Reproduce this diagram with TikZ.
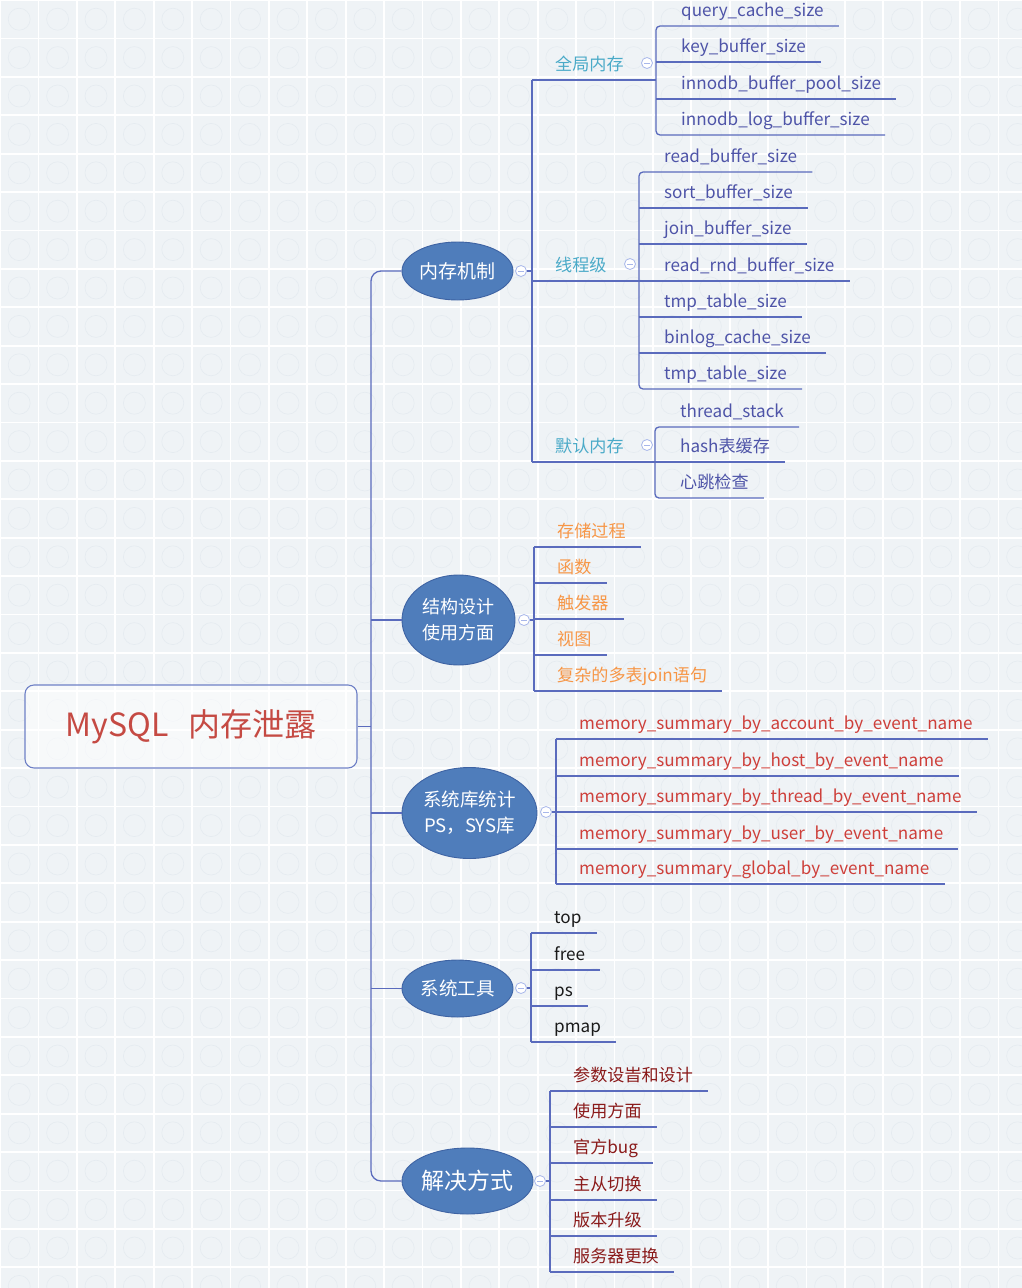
\documentclass[tikz,border=0pt]{standalone}
\usepackage{fontspec}
\setmainfont{Noto Sans CJK SC}
\usetikzlibrary{shapes.geometric,calc}
\definecolor{bgc}{HTML}{EFF3F6}
\definecolor{tilec}{HTML}{E5EBF0}
\definecolor{linec}{HTML}{5A6BBD}
\definecolor{ellfill}{HTML}{4F7DBB}
\definecolor{elldraw}{HTML}{3E63A3}
\definecolor{mkc}{HTML}{A8B7EA}
\definecolor{rootc}{HTML}{6E80C6}
\definecolor{rootred}{HTML}{C54A43}
\definecolor{teal}{HTML}{4AAAC8}
\definecolor{leafblue}{HTML}{4E54A8}
\definecolor{orng}{HTML}{F79646}
\definecolor{redt}{HTML}{CE3F3A}
\definecolor{darkred}{HTML}{8A1A1A}
\definecolor{blk}{HTML}{1A1A1A}
\tikzset{
  ln/.style={draw=linec, line width=1.3pt},
  ell/.style={ellipse, fill=ellfill, draw=elldraw, line width=0.9pt, text=white, inner sep=0pt, align=center},
  mk/.style={circle, draw=mkc, fill=white, minimum size=11pt, inner sep=0pt, line width=0.8pt,
    path picture={\draw[mkc, line width=0.8pt] ([xshift=-2.8pt]path picture bounding box.center) -- ([xshift=2.8pt]path picture bounding box.center);}},
  leaf/.style={anchor=south west, inner sep=0pt, text depth=9.5pt, text height=14pt,
    font=\fontsize{17.1}{20}\selectfont,
    execute at begin node={\hspace*{#1}}, execute at end node={\hspace*{15pt}}},
  leaf/.default=23pt,
  rootbox/.style={draw=rootc, line width=1.1pt, rounded corners=9pt, fill=white, fill opacity=0.55, text opacity=1,
    text=rootred, minimum width=332pt, minimum height=83pt, inner sep=0pt, font=\fontsize{32}{36}\selectfont}
}
\begin{document}
\begin{tikzpicture}[x=1pt,y=-1pt]
\useasboundingbox (0,0) rectangle (1022,1288);
% background tiles
\fill[bgc] (0,0) rectangle (1022,1288);
\foreach \i in {0,...,26} \foreach \j in {0,...,33} {
  \draw[tilec, line width=0.6pt] ({\i*38.4+19.2},{\j*38.4+19.2}) circle (11);
}
\foreach \i in {0,...,27} \draw[white, line width=1.8pt] ({\i*38.4},0) -- ({\i*38.4},1288);
\foreach \j in {0,...,34} \draw[white, line width=1.8pt] (0,{\j*38.4}) -- (1022,{\j*38.4});

\coordinate (trunk) at (371,0);

% root and main branches
\node[rootbox] (root) at (191,726.5) {MySQL\hspace{0.6em}内存泄露};
\node[ell, minimum width=111pt, minimum height=58pt, font=\fontsize{19}{22}\selectfont] (A) at (457.5,271) {内存机制};
\node[ell, minimum width=113pt, minimum height=90pt, font=\fontsize{18}{26}\selectfont] (B) at (458.5,620) {结构设计\\使用方面};
\node[ell, minimum width=135pt, minimum height=91pt, font=\fontsize{18.5}{26}\selectfont] (C) at (469.5,813) {系统库统计\\PS，SYS库};
\node[ell, minimum width=111pt, minimum height=57pt, font=\fontsize{18.5}{22}\selectfont] (D) at (457.5,988.5) {系统工具};
\node[ell, minimum width=131pt, minimum height=66pt, font=\fontsize{23}{26}\selectfont] (E) at (467.5,1181) {解决方式};

\draw[ln, rounded corners=10pt] (A.west) -- (A.west -| trunk) -- (E.west -| trunk) -- (E.west);
\draw[ln] (root.east) -- (root.east -| trunk);
\draw[ln] (B.west -| trunk) -- (B.west);
\draw[ln] (C.west -| trunk) -- (C.west);
\draw[ln] (D.west -| trunk) -- (D.west);

% ---------- 内存机制 ----------
\node[leaf, text=teal] (g1) at (532,80) {全局内存};
\node[leaf, text=teal] (g2) at (532,281) {线程级};
\node[leaf, text=teal] (g3) at (532,462) {默认内存};

\node[leaf=25pt, text=leafblue] (q1) at (656,26) {query\_cache\_size};
\node[leaf=25pt, text=leafblue] (q2) at (656,62) {key\_buffer\_size};
\node[leaf=25pt, text=leafblue] (q3) at (656,99) {innodb\_buffer\_pool\_size};
\node[leaf=25pt, text=leafblue] (q4) at (656,135) {innodb\_log\_buffer\_size};

\node[leaf=25pt, text=leafblue] (t1) at (639,172) {read\_buffer\_size};
\node[leaf=25pt, text=leafblue] (t2) at (639,208) {sort\_buffer\_size};
\node[leaf=25pt, text=leafblue] (t3) at (639,244) {join\_buffer\_size};
\node[leaf=25pt, text=leafblue] (t4) at (639,281) {read\_rnd\_buffer\_size};
\node[leaf=25pt, text=leafblue] (t5) at (639,317) {tmp\_table\_size};
\node[leaf=25pt, text=leafblue] (t6) at (639,353) {binlog\_cache\_size};
\node[leaf=25pt, text=leafblue] (t7) at (639,389) {tmp\_table\_size};

\node[leaf=25pt, text=leafblue] (d1) at (655,427) {thread\_stack};
\node[leaf=25pt, text=leafblue] (d2) at (655,462) {hash表缓存};
\node[leaf=25pt, text=leafblue] (d3) at (655,498) {心跳检查};

\draw[ln] (g1.south west) -- (g3.south west);
\draw[ln] (g1.south west) -- (g1.south west -| q1.south west);
\draw[ln] (g2.south west) -- (g2.south west -| t1.south west);
\draw[ln] (g3.south west) -- (g3.south west -| d1.south west);

\draw[ln, rounded corners=4pt] (q1.south east) -- (q1.south west) -- (q4.south west) -- (q4.south east);
\foreach \n in {q2,q3} \draw[ln] (\n.south west) -- (\n.south east);
\draw[ln, rounded corners=4pt] (t1.south east) -- (t1.south west) -- (t7.south west) -- (t7.south east);
\foreach \n in {t2,t3,t4,t5,t6} \draw[ln] (\n.south west) -- (\n.south east);
\draw[ln, rounded corners=4pt] (d1.south east) -- (d1.south west) -- (d3.south west) -- (d3.south east);
\draw[ln] (d2.south west) -- (d2.south east);

% ---------- 结构设计 ----------
\node[leaf, text=orng] (b1) at (534,547) {存储过程};
\node[leaf, text=orng] (b2) at (534,583) {函数};
\node[leaf, text=orng] (b3) at (534,619) {触发器};
\node[leaf, text=orng] (b4) at (534,655) {视图};
\node[leaf, text=orng] (b5) at (534,691) {复杂的多表join语句};
\draw[ln] (b1.south west) -- (b5.south west);
\foreach \n in {b1,b2,b3,b4,b5} \draw[ln] (\n.south west) -- (\n.south east);

% ---------- 系统库统计 ----------
\node[leaf, text=redt] (c1) at (556,739) {memory\_summary\_by\_account\_by\_event\_name};
\node[leaf, text=redt] (c2) at (556,776) {memory\_summary\_by\_host\_by\_event\_name};
\node[leaf, text=redt] (c3) at (556,812) {memory\_summary\_by\_thread\_by\_event\_name};
\node[leaf, text=redt] (c4) at (556,849) {memory\_summary\_by\_user\_by\_event\_name};
\node[leaf, text=redt] (c5) at (556,884) {memory\_summary\_global\_by\_event\_name};
\draw[ln] (c1.south west) -- (c5.south west);
\foreach \n in {c1,c2,c3,c4,c5} \draw[ln] (\n.south west) -- (\n.south east);

% ---------- 系统工具 ----------
\node[leaf, text=blk] (s1) at (531,933) {top};
\node[leaf, text=blk] (s2) at (531,970) {free};
\node[leaf, text=blk] (s3) at (531,1006) {ps};
\node[leaf, text=blk] (s4) at (531,1042) {pmap};
\draw[ln] (s1.south west) -- (s4.south west);
\foreach \n in {s1,s2,s3,s4} \draw[ln] (\n.south west) -- (\n.south east);

% ---------- 解决方式 ----------
\node[leaf, text=darkred] (e1) at (550,1091) {参数设旹和设计};
\node[leaf, text=darkred] (e2) at (550,1127) {使用方面};
\node[leaf, text=darkred] (e3) at (550,1163) {官方bug};
\node[leaf, text=darkred] (e4) at (550,1200) {主从切换};
\node[leaf, text=darkred] (e5) at (550,1236) {版本升级};
\node[leaf, text=darkred] (e6) at (550,1272) {服务器更换};
\draw[ln] (e1.south west) -- (e6.south west);
\foreach \n in {e1,e2,e3,e4,e5,e6} \draw[ln] (\n.south west) -- (\n.south east);

% ---------- collapse markers ----------
\node[mk] (mA) at (521,271) {};
\node[mk] (mB) at (524,620) {};
\node[mk] (mC) at (546,812) {};
\node[mk] (mD) at (521,988) {};
\node[mk] (mE) at (540,1181) {};
\node[mk] (mg1) at (647,63) {};
\node[mk] (mg2) at (630,264) {};
\node[mk] (mg3) at (647,445) {};

\draw[ln] (mA.east) -- (mA.east -| g1.south west);
\draw[ln] (mB.east) -- (mB.east -| b1.south west);
\draw[ln] (mC.east) -- (mC.east -| c1.south west);
\draw[ln] (mD.east) -- (mD.east -| s1.south west);
\draw[ln] (mE.east) -- (mE.east -| e1.south west);
\end{tikzpicture}
\end{document}
